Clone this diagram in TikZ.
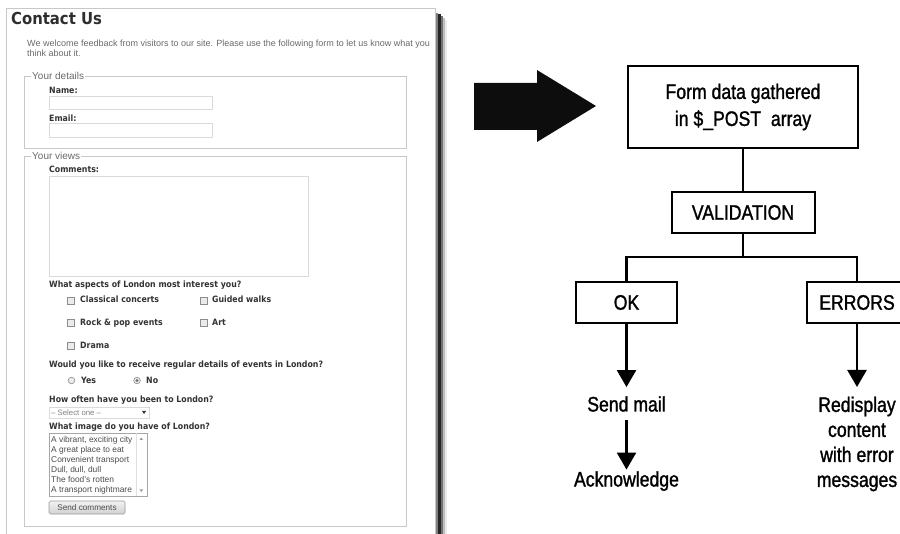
\documentclass[tikz,border=0pt]{standalone}
\usepackage{fontspec}
\setmainfont{Liberation Sans}
\newfontfamily\flowfont[FakeStretch=0.84,FakeBold=1.3]{Liberation Sans}
\newfontfamily\formfont[FakeStretch=0.9]{DejaVu Sans}
\usetikzlibrary{arrows.meta}
\definecolor{ink}{HTML}{2E2E2E}
\definecolor{labink}{HTML}{333333}
\definecolor{softink}{HTML}{6A6A6A}
\definecolor{frame}{HTML}{C8C8C8}
\definecolor{field}{HTML}{DADADA}

\tikzset{
  fbox/.style={draw, line width=2, align=center, inner sep=0,
    font=\flowfont\fontsize{21}{27}\selectfont},
  ftext/.style={inner sep=0, font=\flowfont\fontsize{21}{25}\selectfont},
  conn/.style={line width=2.4},
  flowarrow/.style={line width=2.4, -{Triangle[width=19pt,length=17pt]}},
  lab/.style={anchor=base west, inner sep=0, text=labink,
    font=\formfont\bfseries\fontsize{8.7}{10}\selectfont},
  plain/.style={anchor=base west, inner sep=0, text=softink,
    font=\fontsize{9}{10}\selectfont},
  legend/.style={anchor=west, inner sep=1, fill=white, text=softink,
    font=\fontsize{10}{11}\selectfont},
  item/.style={anchor=base west, inner sep=0, text=black!70,
    font=\fontsize{8.4}{10}\selectfont},
  inputbox/.style={draw=field, line width=0.8},
  tick/.style={draw=black!45, fill=black!8, line width=0.6},
}

\begin{document}
\begin{tikzpicture}[x=1pt, y=-1pt]
\useasboundingbox (0,0) rectangle (900,534);

% ---------- web form panel ----------
% drop shadow on the right
\fill[black!50] (436,13) rectangle (437.5,534);
\fill[black!85] (437.5,14) rectangle (440.5,534);
\fill[black!55] (440.5,16) rectangle (442.5,534);
\fill[black!25] (442.5,18) rectangle (444.5,534);
\fill[black!8]  (444.5,20) rectangle (446.5,534);
% page frame
\draw[frame, fill=white, line width=0.8] (6,8) rectangle (435.5,545);

\node[anchor=base west, inner sep=0, text=ink,
  font=\formfont\bfseries\fontsize{16.5}{19}\selectfont] (title) at (11,25) {Contact Us};
\node[plain] (intro1) at (27,47) {We welcome feedback from visitors to our site. Please use the following form to let us know what you};
\node[plain] (intro2) at (27,57) {think about it.};

% fieldset: your details
\draw[frame, line width=0.8] (24,76) rectangle (406,148);
\node[legend] (legdetails) at (31,76) {Your details};
\node[lab] (lname) at (49,94) {Name:};
\draw[inputbox] (49,96) rectangle (212,109);
\node[lab] (lemail) at (49,121.5) {Email:};
\draw[inputbox] (49,123) rectangle (212,137);

% fieldset: your views
\draw[frame, line width=0.8] (24,156) rectangle (406,526);
\node[legend] (legviews) at (31,156) {Your views};
\node[lab] (lcomments) at (49,173) {Comments:};
\draw[inputbox] (49,176) rectangle (308,276);

\node[lab] (laspects) at (49,288) {What aspects of London most interest you?};
\draw[tick] (67,297) rectangle (74,304);
\node[lab] (oclassic) at (80,303) {Classical concerts};
\draw[tick] (200,297) rectangle (207,304);
\node[lab] (owalks) at (212,303) {Guided walks};
\draw[tick] (67,319) rectangle (74,326);
\node[lab] (orock) at (80,326) {Rock \& pop events};
\draw[tick] (200,319) rectangle (207,326);
\node[lab] (oart) at (212,326) {Art};
\draw[tick] (67,342) rectangle (74,349);
\node[lab] (odrama) at (80,349) {Drama};

\node[lab] (lreceive) at (49,368) {Would you like to receive regular details of events in London?};
\draw[tick] (71.5,380.5) circle (3.3);
\node[lab] (oyes) at (81,384) {Yes};
\draw[tick] (137,380.5) circle (3.3);
\fill[black!55] (137,380.5) circle (1.6);
\node[lab] (ono) at (146,384) {No};

\node[lab] (loften) at (49,403) {How often have you been to London?};
\draw[inputbox] (49,407) rectangle (149,418);
\node[anchor=base west, inner sep=0, text=black!50, font=\fontsize{7.8}{9}\selectfont]
  (select) at (51,415.5) {-- Select one --};
\fill[black!80] (142,411) -- (146,411) -- (144,414) -- cycle;

\node[lab] (limage) at (49,430) {What image do you have of London?};
\draw[draw=black!35, line width=0.8] (49,433) rectangle (147,496);
\draw[draw=black!12, line width=0.6] (136.5,433.5) -- (136.5,495.5);
\fill[black!40] (139.5,440) -- (143,440) -- (141.25,437.5) -- cycle;
\fill[black!40] (139.5,489.5) -- (143,489.5) -- (141.25,492) -- cycle;
\node[item] (i1) at (51,442.5) {A vibrant, exciting city};
\node[item] (i2) at (51,452.6) {A great place to eat};
\node[item] (i3) at (51,462.7) {Convenient transport};
\node[item] (i4) at (51,472.8) {Dull, dull, dull};
\node[item] (i5) at (51,482.9) {The food's rotten};
\node[item] (i6) at (51,493) {A transport nightmare};

\draw[draw=black!40, top color=black!5, bottom color=black!18, line width=0.7,
  rounded corners=1.5] (49,501) rectangle (125,514);
\node[inner sep=0, text=black!70, font=\fontsize{8.2}{9}\selectfont]
  (send) at (87,507.5) {Send comments};

% ---------- big arrow ----------
\fill[black!95] (474,83) -- (537,83) -- (537,70) -- (596,106) -- (537,142)
  -- (537,130) -- (474,130) -- cycle;

% ---------- flow chart ----------
\node[fbox, minimum width=230, minimum height=82] (gather) at (743,107)
  {Form data gathered\\in \$\_POST\ \ array};
\node[fbox, minimum width=143, minimum height=41] (valid) at (743,212.5) {VALIDATION};
\coordinate (split) at (743,257);
\node[fbox, minimum width=101, minimum height=41] (ok) at (626.5,302.5) {OK};
\node[fbox, minimum width=100, minimum height=41] (err) at (857,302.5) {ERRORS};

\node[ftext, anchor=base] (mail) at (626.5,411.5) {Send mail};
\node[ftext, anchor=base] (ack) at (626.5,486.5) {Acknowledge};
\node[ftext, anchor=north, align=center] (redisp) at (857,396.5)
  {Redisplay\\content\\with error\\messages};

\draw[conn] (gather) -- (valid);
\draw[conn] (valid) -- (split);
\draw[conn] (ok.north) |- (split) -| (err.north);
\draw[flowarrow, shorten >=9] (ok.south) -- (mail.north);
\draw[flowarrow, shorten <=8.5, shorten >=1.5] (mail.south) -- (ack.north);
\draw[flowarrow, shorten >=9.5] (err.south) -- (redisp.north);
\end{tikzpicture}
\end{document}
